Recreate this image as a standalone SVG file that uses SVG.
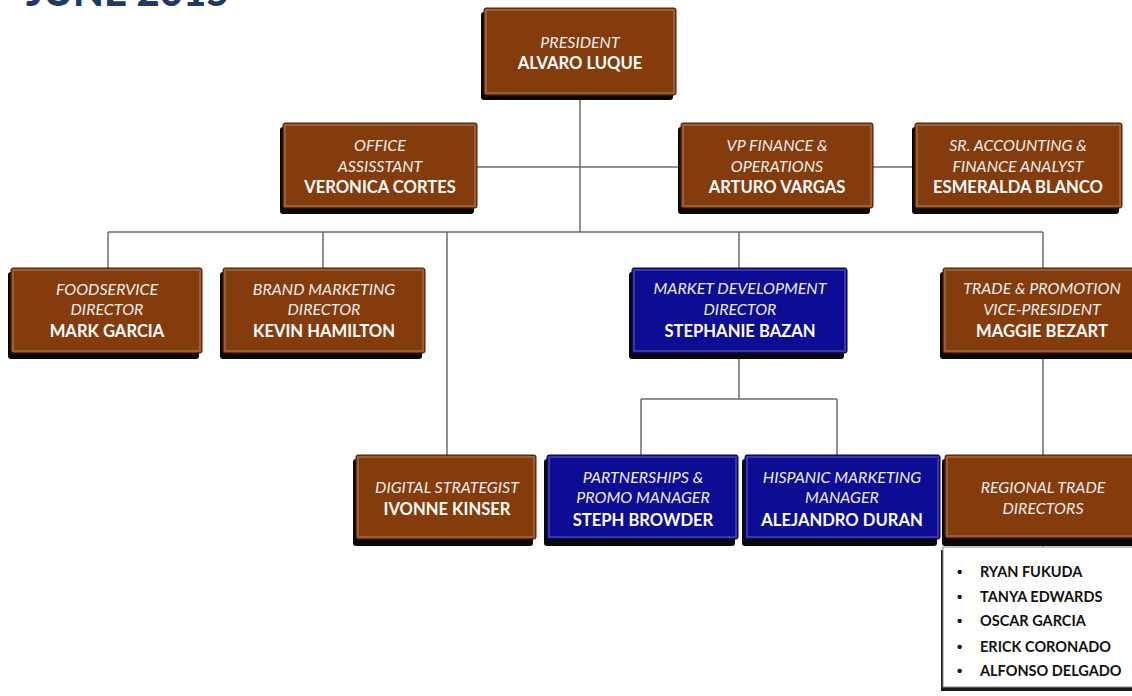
<svg xmlns="http://www.w3.org/2000/svg" width="1132" height="696" viewBox="0 0 1132 696">
<defs>
<style>
.sh{fill:#080808}
.br{fill:#843C0C;stroke:#4a2006;stroke-width:1}
.bl{fill:#0C0C94;stroke:#05054a;stroke-width:1}
.hl{fill:none;stroke:#ffffff;stroke-opacity:0.18;stroke-width:2}
.t{font-family:Lato,"Liberation Sans",sans-serif;font-style:italic;font-size:16px;fill:#ECECEC;text-anchor:middle}
.n{font-family:Lato,"Liberation Sans",sans-serif;font-weight:bold;font-size:16.6px;fill:#FFFFFF;text-anchor:middle}
.li{font-family:Lato,"Liberation Sans",sans-serif;font-weight:bold;font-size:14.5px;fill:#111111}
.bu{font-family:"Liberation Sans",sans-serif;font-weight:bold;font-size:15px;fill:#111111}
.c{fill:none;stroke:#6b6b6b;stroke-width:1.5}
.title{font-family:Lato,"Liberation Sans",sans-serif;font-weight:900;font-size:40px;fill:#1F3864}
</style>
</defs>
<text class="title" x="26" y="6">JUNE 2015</text>
<g id="connectors">
<path class="c" d="M580,96 V232"/>
<path class="c" d="M477,167 H681"/>
<path class="c" d="M873,167 H915"/>
<path class="c" d="M108,232 H1043"/>
<path class="c" d="M108,232 V268"/>
<path class="c" d="M323,232 V268"/>
<path class="c" d="M447,232 V455"/>
<path class="c" d="M739,232 V268"/>
<path class="c" d="M1043,232 V268"/>
<path class="c" d="M739,353 V399"/>
<path class="c" d="M641,399 H837"/>
<path class="c" d="M641,399 V455"/>
<path class="c" d="M837,399 V455"/>
<path class="c" d="M1043,353 V455"/>
<path class="c" d="M1043,538 V547"/>
</g>
<g id="president">
<rect class="sh" x="481" y="12" width="192" height="88" rx="3"/>
<rect class="br" x="484" y="8" width="192" height="87" rx="2"/>
<rect class="hl" x="486" y="10" width="188" height="83"/>
<text class="t" x="580" y="48">PRESIDENT</text>
<text class="n" x="580" y="69">ALVARO LUQUE</text>
</g>
<g id="office-assistant">
<rect class="sh" x="280" y="127" width="194" height="87" rx="3"/>
<rect class="br" x="283" y="123" width="194" height="85" rx="2"/>
<rect class="hl" x="285" y="125" width="190" height="81"/>
<text class="t" x="380" y="151">OFFICE</text>
<text class="t" x="380" y="172">ASSISSTANT</text>
<text class="n" x="380" y="193">VERONICA CORTES</text>
</g>
<g id="vp-finance">
<rect class="sh" x="678" y="127" width="192" height="87" rx="3"/>
<rect class="br" x="681" y="123" width="192" height="85" rx="2"/>
<rect class="hl" x="683" y="125" width="188" height="81"/>
<text class="t" x="777" y="151">VP FINANCE &amp;</text>
<text class="t" x="777" y="172">OPERATIONS</text>
<text class="n" x="777" y="193">ARTURO VARGAS</text>
</g>
<g id="sr-accounting">
<rect class="sh" x="912" y="127" width="207" height="87" rx="3"/>
<rect class="br" x="915" y="123" width="207" height="85" rx="2"/>
<rect class="hl" x="917" y="125" width="203" height="81"/>
<text class="t" x="1018" y="151">SR. ACCOUNTING &amp;</text>
<text class="t" x="1018" y="172">FINANCE ANALYST</text>
<text class="n" x="1018" y="193">ESMERALDA BLANCO</text>
</g>
<g id="foodservice">
<rect class="sh" x="8" y="272" width="191" height="87" rx="3"/>
<rect class="br" x="11" y="268" width="191" height="85" rx="2"/>
<rect class="hl" x="13" y="270" width="187" height="81"/>
<text class="t" x="107" y="295">FOODSERVICE</text>
<text class="t" x="107" y="315">DIRECTOR</text>
<text class="n" x="107" y="337">MARK GARCIA</text>
</g>
<g id="brand-marketing">
<rect class="sh" x="220" y="272" width="202" height="87" rx="3"/>
<rect class="br" x="223" y="268" width="202" height="85" rx="2"/>
<rect class="hl" x="225" y="270" width="198" height="81"/>
<text class="t" x="324" y="295">BRAND MARKETING</text>
<text class="t" x="324" y="315">DIRECTOR</text>
<text class="n" x="324" y="337">KEVIN HAMILTON</text>
</g>
<g id="market-development">
<rect class="sh" x="629" y="272" width="215" height="87" rx="3"/>
<rect class="bl" x="632" y="268" width="215" height="85" rx="2"/>
<rect class="hl" x="634" y="270" width="211" height="81"/>
<text class="t" x="740" y="294">MARKET DEVELOPMENT</text>
<text class="t" x="740" y="315">DIRECTOR</text>
<text class="n" x="740" y="337">STEPHANIE BAZAN</text>
</g>
<g id="trade-promotion">
<rect class="sh" x="940" y="272" width="200" height="87" rx="3"/>
<rect class="br" x="943" y="268" width="200" height="85" rx="2"/>
<rect class="hl" x="945" y="270" width="196" height="81"/>
<text class="t" x="1042" y="294">TRADE &amp; PROMOTION</text>
<text class="t" x="1042" y="315">VICE-PRESIDENT</text>
<text class="n" x="1042" y="337">MAGGIE BEZART</text>
</g>
<g id="digital-strategist">
<rect class="sh" x="353" y="459" width="180" height="87" rx="3"/>
<rect class="br" x="356" y="455" width="180" height="84" rx="2"/>
<rect class="hl" x="358" y="457" width="176" height="80"/>
<text class="t" x="447" y="493">DIGITAL STRATEGIST</text>
<text class="n" x="447" y="515">IVONNE KINSER</text>
</g>
<g id="partnerships">
<rect class="sh" x="544" y="459" width="191" height="87" rx="3"/>
<rect class="bl" x="547" y="455" width="191" height="84" rx="2"/>
<rect class="hl" x="549" y="457" width="187" height="80"/>
<text class="t" x="643" y="483">PARTNERSHIPS &amp;</text>
<text class="t" x="643" y="503">PROMO MANAGER</text>
<text class="n" x="643" y="526">STEPH BROWDER</text>
</g>
<g id="hispanic-marketing">
<rect class="sh" x="742" y="459" width="195" height="87" rx="3"/>
<rect class="bl" x="745" y="455" width="195" height="84" rx="2"/>
<rect class="hl" x="747" y="457" width="191" height="80"/>
<text class="t" x="842" y="483">HISPANIC MARKETING</text>
<text class="t" x="842" y="503">MANAGER</text>
<text class="n" x="842" y="526">ALEJANDRO DURAN</text>
</g>
<g id="regional-trade">
<rect class="sh" x="942" y="459" width="200" height="87" rx="3"/>
<rect class="br" x="945" y="455" width="200" height="83" rx="2"/>
<rect class="hl" x="947" y="457" width="196" height="79"/>
<text class="t" x="1043" y="493">REGIONAL TRADE</text>
<text class="t" x="1043" y="514">DIRECTORS</text>
</g>
<g id="regional-list">
<rect x="941" y="550" width="200" height="141" fill="#1a1a1a"/>
<rect x="943" y="547" width="200" height="140" fill="#FFFFFF" stroke="#8a8a8a" stroke-width="1"/>
<text class="bu" x="957" y="577">•</text><text class="li" x="980" y="577">RYAN FUKUDA</text>
<text class="bu" x="957" y="602">•</text><text class="li" x="980" y="602">TANYA EDWARDS</text>
<text class="bu" x="957" y="626">•</text><text class="li" x="980" y="626">OSCAR GARCIA</text>
<text class="bu" x="957" y="652">•</text><text class="li" x="980" y="652">ERICK CORONADO</text>
<text class="bu" x="957" y="676">•</text><text class="li" x="980" y="676">ALFONSO DELGADO</text>
</g>
</svg>
